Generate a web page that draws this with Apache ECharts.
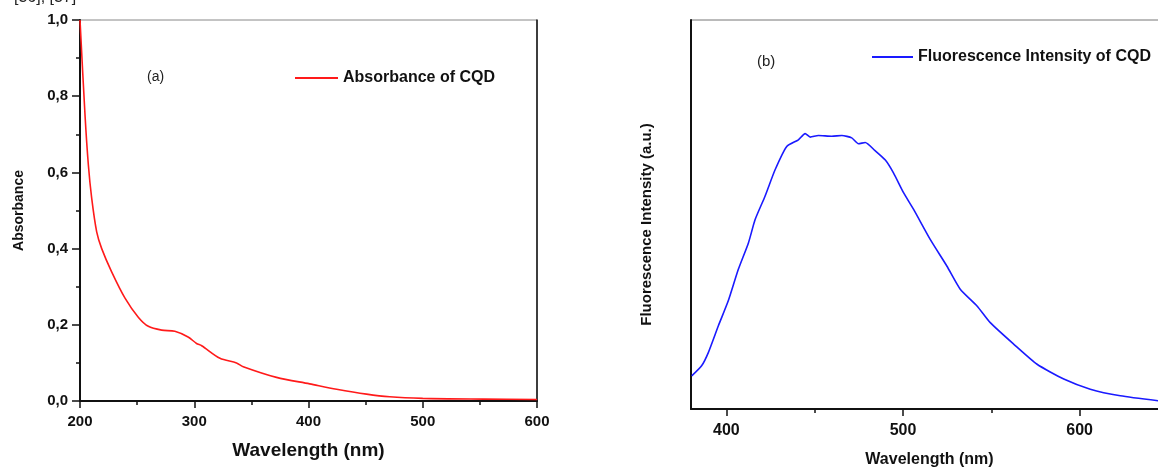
<!DOCTYPE html>
<html>
<head>
<meta charset="utf-8">
<script src="https://cdn.jsdelivr.net/npm/echarts@6/dist/echarts.min.js"></script>
<style>
html, body { margin: 0; padding: 0; background: #fff; }
#main { width: 1158px; height: 469px; }
</style>
</head>
<body>
<div id="main"></div>
<script>
// (a) absorbance
var absWave = [200, 204.4, 207.3, 210.2, 214.6, 219, 227.7, 239.4, 251, 259.8, 271.5, 283, 294.6, 302, 306.5,
    322.5, 337, 342.9, 372, 401, 424.6, 450.8, 471, 500, 553, 600];
var absVal = [1.0, 0.75, 0.62, 0.533, 0.444, 0.40, 0.339, 0.27, 0.22, 0.196, 0.186, 0.183, 0.168, 0.151, 0.145,
    0.112, 0.10, 0.09, 0.062, 0.045, 0.031, 0.018, 0.011, 0.007, 0.005, 0.004];

// (b) fluorescence intensity, arbitrary units
var flWave = [380.4, 386, 389.8, 395.5, 401.1, 406.8, 412.5, 416.3, 421.9, 427.6, 434.2, 440.8, 444.6, 447.5,
    452.1, 459.7, 465.4, 471, 474.8, 478.6, 484, 490, 494.6, 500.3, 506, 515.4, 524.9, 532.4, 541.9, 549.4,
    562.6, 575.9, 591, 606, 623, 644.6];
var flVal = [0.085, 0.111, 0.145, 0.214, 0.278, 0.359, 0.427, 0.487, 0.547, 0.615, 0.675, 0.692, 0.708, 0.699,
    0.703, 0.701, 0.703, 0.697, 0.682, 0.685, 0.665, 0.64, 0.607, 0.556, 0.513, 0.436, 0.367, 0.308, 0.265, 0.222,
    0.167, 0.115, 0.077, 0.051, 0.034, 0.021];

var flLabels = [400, 500, 600];
var flMinor = [450, 550, 650];

function pairs(xs, ys) {
    var out = [];
    for (var i = 0; i < xs.length; i++) {
        out.push([xs[i], ys[i]]);
    }
    return out;
}

var font = 'Liberation Sans, Arial, sans-serif';
var ink = '#111';
var myChart = echarts.init(document.getElementById('main'));

var option = {
    backgroundColor: '#fff',
    animation: false,
    textStyle: { fontFamily: font },
    grid: [
        { left: 80, top: 20, width: 457, height: 381, show: true, borderColor: '#888', borderWidth: 1, outerBoundsMode: 'none' },
        { left: 691, top: 20, width: 477, height: 389, show: true, borderColor: '#777', borderWidth: 1, outerBoundsMode: 'none' }
    ],
    legend: [
        {
            left: 290, top: 65, itemWidth: 43, itemHeight: 2, icon: 'rect',
            data: ['Absorbance of CQD'],
            textStyle: { color: ink, fontWeight: 'bold', fontSize: 16, fontFamily: font }
        },
        {
            left: 867, top: 44, itemWidth: 41, itemHeight: 2, icon: 'rect',
            data: ['Fluorescence Intensity of CQD'],
            textStyle: { color: ink, fontWeight: 'bold', fontSize: 16, fontFamily: font }
        }
    ],
    xAxis: [
        {
            gridIndex: 0, type: 'value', min: 200, max: 600, interval: 100,
            name: 'Wavelength (nm)', nameLocation: 'middle', nameGap: 40,
            nameTextStyle: { color: ink, fontWeight: 'bold', fontSize: 19, fontFamily: font },
            axisLine: { lineStyle: { color: ink, width: 2 } },
            axisTick: { inside: false, length: 7, lineStyle: { color: ink, width: 1.5 } },
            minorTick: { show: true, splitNumber: 2, length: 4, lineStyle: { color: ink, width: 1.5 } },
            axisLabel: { color: ink, fontWeight: 'bold', fontSize: 15, margin: 13, fontFamily: font },
            splitLine: { show: false }
        },
        {
            gridIndex: 1, type: 'value', min: 380, max: 650, position: 'bottom',
            name: 'Wavelength (nm)', nameLocation: 'middle', nameGap: 43,
            nameTextStyle: { color: ink, fontWeight: 'bold', fontSize: 16, fontFamily: font },
            axisLine: { onZero: false, lineStyle: { color: ink, width: 2 } },
            axisTick: { show: true, inside: false, length: 7, customValues: flLabels, lineStyle: { color: ink, width: 1.5 } },
            axisLabel: { color: ink, fontWeight: 'bold', fontSize: 16, margin: 14, customValues: flLabels, fontFamily: font },
            splitLine: { show: false }
        },
        {
            // minor ticks of panel (b)
            gridIndex: 1, type: 'value', min: 380, max: 650, position: 'bottom',
            axisLine: { show: false, onZero: false },
            axisTick: { show: true, inside: false, length: 4, customValues: flMinor, lineStyle: { color: ink, width: 1.5 } },
            axisLabel: { show: false },
            splitLine: { show: false }
        }
    ],
    yAxis: [
        {
            gridIndex: 0, type: 'value', min: 0, max: 1, interval: 0.2,
            name: 'Absorbance', nameLocation: 'middle', nameGap: 54,
            nameTextStyle: { color: ink, fontWeight: 'bold', fontSize: 14, fontFamily: font },
            axisLine: { show: true, lineStyle: { color: ink, width: 2 } },
            axisTick: { show: true, inside: false, length: 8, lineStyle: { color: ink, width: 1.5 } },
            minorTick: { show: true, splitNumber: 2, length: 4, lineStyle: { color: ink, width: 1.5 } },
            axisLabel: {
                color: ink, fontWeight: 'bold', fontSize: 15, margin: 12, fontFamily: font,
                formatter: function (v) { return v.toFixed(1).replace('.', ','); }
            },
            splitLine: { show: false }
        },
        {
            gridIndex: 1, type: 'value', min: 0, max: 1,
            name: 'Fluorescence Intensity (a.u.)', nameLocation: 'middle', nameGap: 37,
            nameTextStyle: { color: ink, fontWeight: 'bold', fontSize: 15, fontFamily: font, padding: [0, 20, 0, 0] },
            axisLine: { show: true, lineStyle: { color: ink, width: 2 } },
            axisTick: { show: false },
            axisLabel: { show: false },
            splitLine: { show: false }
        },
        {
            // right frame of panel (a)
            gridIndex: 0, type: 'value', min: 0, max: 1, position: 'right',
            axisLine: { show: true, lineStyle: { color: ink, width: 1.5 } },
            axisTick: { show: false },
            axisLabel: { show: false },
            splitLine: { show: false }
        }
    ],
    graphic: [
        { type: 'text', left: 14, top: -10, style: { text: '[36], [37]', fontSize: 16, fontFamily: font, fill: '#222' } },
        { type: 'text', left: 147, top: 70, style: { text: '(a)', fontSize: 14, fontFamily: font, fill: '#222' } },
        { type: 'text', left: 757, top: 54, style: { text: '(b)', fontSize: 15, fontFamily: font, fill: '#222' } }
    ],
    series: [
        {
            name: 'Absorbance of CQD', type: 'line', xAxisIndex: 0, yAxisIndex: 0,
            symbol: 'none', smooth: 0.3, clip: true,
            lineStyle: { color: '#ff1a1a', width: 1.6 },
            itemStyle: { color: '#ff1a1a' },
            data: pairs(absWave, absVal)
        },
        {
            name: 'Fluorescence Intensity of CQD', type: 'line', xAxisIndex: 1, yAxisIndex: 1,
            symbol: 'none', smooth: 0.2, clip: true,
            lineStyle: { color: '#1a1aff', width: 1.6 },
            itemStyle: { color: '#1a1aff' },
            data: pairs(flWave, flVal)
        }
    ]
};
myChart.setOption(option);
</script>
</body>
</html>
